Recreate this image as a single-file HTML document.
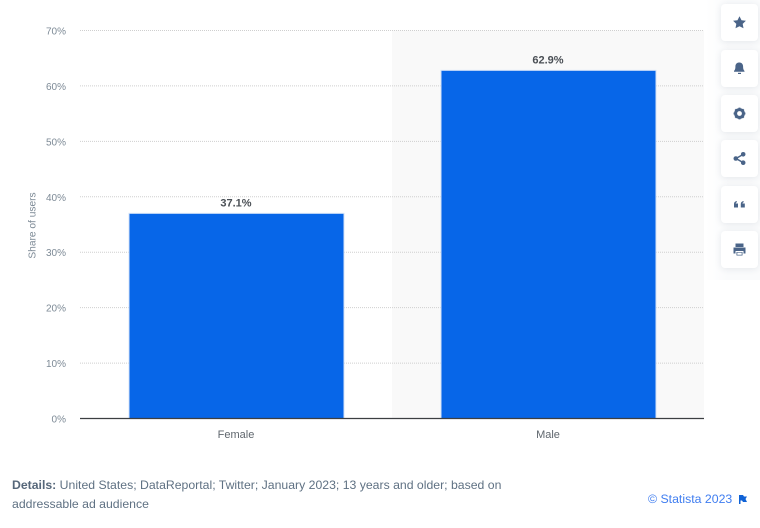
<!DOCTYPE html>
<html lang="en">
<head>
<meta charset="utf-8">
<title>Twitter users by gender</title>
<style>
html,body{margin:0;padding:0;background:#fff;width:760px;height:528px;overflow:hidden;font-family:"Liberation Sans",sans-serif}
#stage{position:relative;width:760px;height:528px}
svg{position:absolute;left:0;top:0}
.details{position:absolute;left:12px;top:476px;width:520px;font-size:12.25px;line-height:19px;color:#5f7183}
.details b{color:#56677a}
.credit{position:absolute;left:648px;top:491px;font-size:12.3px;line-height:16px;color:#3f7df0;white-space:nowrap}
.tool{position:absolute;left:721px;width:37px;height:37px;background:#fff;border-radius:4px;box-shadow:0 1px 7px rgba(40,60,90,.10);border:0;padding:0}
.tool svg{position:absolute;left:10px;top:10px}
.side{position:absolute;left:706px;top:0;width:54px;height:280px;background:linear-gradient(90deg,#fff,#fafbfc 40%,#fafbfc)}
</style>
</head>
<body>
<div id="stage">
  <div class="side"></div>
  <svg id="chart" width="760" height="528" viewBox="0 0 760 528"></svg>

  <div class="tool" style="top:4px">
    <svg width="17" height="17" viewBox="0 0 17 17"><path fill="#4a6488" d="M8.500 2.200l2 4 4.400.6-3.200 3.100.8 4.400-4-2.100-4 2.100.8-4.400-3.200-3.100 4.400-.6z"/></svg>
  </div>
  <div class="tool" style="top:50px">
    <svg width="17" height="17" viewBox="0 0 17 17"><path fill="#4a6488" d="M8.500 2.500c2.400 0 3.600 1.800 3.600 4.200 0 2.400.6 3.300 1.400 4.300v.8H3v-.8c.8-1 1.400-1.900 1.400-4.300 0-2.400 1.200-4.200 3.600-4.200z"/><rect x="7" y="12.800" width="3" height="1.200" fill="#4a6488"/></svg>
  </div>
  <div class="tool" style="top:95px">
    <svg width="17" height="17" viewBox="0 0 17 17"><circle cx="8.500" cy="8.500" r="3.900" fill="none" stroke="#4a6488" stroke-width="3"/><path stroke="#4a6488" stroke-width="2" d="M8.500 2.600v2M8.500 12.400v2M2.600 8.500h2M12.400 8.500h2M4.300 4.300l1.400 1.400M11.300 11.300l1.400 1.400M4.300 12.700l1.400-1.400M11.300 5.700l1.400-1.400"/></svg>
  </div>
  <div class="tool" style="top:140px">
    <svg width="17" height="17" viewBox="0 0 17 17"><path stroke="#4a6488" stroke-width="1.500" fill="none" d="M12 4.500L5 8.500l7 4"/><circle cx="12.200" cy="4.300" r="2.300" fill="#4a6488"/><circle cx="4.800" cy="8.500" r="2.300" fill="#4a6488"/><circle cx="12.200" cy="12.700" r="2.300" fill="#4a6488"/></svg>
  </div>
  <div class="tool" style="top:186px">
    <svg width="17" height="17" viewBox="0 0 17 17"><path fill="#4a6488" d="M3 8c0-1.700 1-2.700 2.800-3v1.300C5 6.500 4.700 7 4.700 7.500H7V11.500H3zM9.800 8c0-1.700 1-2.700 2.800-3v1.300c-.8.200-1.100.7-1.100 1.200h2.300V11.500h-4z"/></svg>
  </div>
  <div class="tool" style="top:231px">
    <svg width="17" height="17" viewBox="0 0 17 17"><path fill="#4a6488" d="M4.500 2.500h8v3.500h-8zM2.500 6.500h12v6h-2v-2.500h-8v2.500h-2z"/><path fill="#4a6488" d="M5.500 11h6v3.500h-6z"/><path fill="#fff" d="M6.300 11.600h4.400v2.200H6.300z"/></svg>
  </div>

  <div class="details"><b>Details:</b> United States; DataReportal; Twitter; January 2023; 13 years and older; based on<br>addressable ad audience</div>
  <div class="credit">© Statista 2023</div>
  <svg style="left:738px;top:494px" width="10" height="11" viewBox="0 0 10 11"><path fill="#0f62d6" d="M1 1h4l1 1.500h3L7.500 5 9 8H5L4 6.500H2.500V10H1z"/></svg>
</div>

<script>
const categories = ['Female', 'Male'];
const shareValues = [37.1, 62.9];
const valueLabels = ['37.1%', '62.9%'];
const tickValues = [0, 10, 20, 30, 40, 50, 60, 70];
const tickLabels = ['0%', '10%', '20%', '30%', '40%', '50%', '60%', '70%'];
const axisTitle = 'Share of users';

const NS = 'http://www.w3.org/2000/svg';
const svg = document.getElementById('chart');
const plot = { left: 80, right: 704, top: 30.5, bottom: 418.5 };
const domainMax = 70;
const bandWidth = (plot.right - plot.left) / categories.length;
const barWidth = 215;

function yScale(v) {
  return plot.bottom - (v / domainMax) * (plot.bottom - plot.top);
}
function xBand(i) {
  return plot.left + i * bandWidth;
}
function make(tag, attrs, text) {
  const el = document.createElementNS(NS, tag);
  for (const k in attrs) el.setAttribute(k, attrs[k]);
  if (text !== undefined) el.textContent = text;
  svg.appendChild(el);
  return el;
}
const FONT = '"Liberation Sans", sans-serif';

categories.forEach(function (c, i) {
  if (i % 2 === 1) {
    const band = make('rect', { x: xBand(i), y: plot.top, width: bandWidth, height: plot.bottom - plot.top, fill: '#f9f9f9' });
    
    
  }
});

tickValues.forEach(function (v, i) {
  const y = yScale(v);
  if (v !== 0) {
    const line = make('line', { x1: plot.left, x2: plot.right, y1: y, y2: y, stroke: '#cfcfcf', 'stroke-width': 1, 'stroke-dasharray': '1 1' });
    
    
  }
  const label = make('text', { x: 66, y: y + 4, 'text-anchor': 'end', 'font-family': FONT, 'font-size': 10, fill: '#7d8a96' }, tickLabels[i]);
  
  
});

categories.forEach(function (c, i) {
  const cx = xBand(i) + bandWidth / 2;
  const top = yScale(shareValues[i]);
  const bar = make('rect', { x: cx - barWidth / 2 + 0.5, y: top + 0.5, width: barWidth, height: plot.bottom - top - 0.5, fill: '#0766e8', stroke: '#d4e3f8', 'stroke-width': 1 });
  
  
  const val = make('text', { x: cx, y: top - 6.5, 'text-anchor': 'middle', 'font-family': FONT, 'font-size': 11, 'font-weight': 700, fill: '#4a4f55' }, valueLabels[i]);
  
  
  const cat = make('text', { x: cx, y: 438, 'text-anchor': 'middle', 'font-family': FONT, 'font-size': 11, fill: '#5f666d' }, c);
  
  
});

const axis = make('line', { x1: plot.left, x2: plot.right, y1: plot.bottom, y2: plot.bottom, stroke: '#3c3f42', 'stroke-width': 1.2 });



const title = make('text', { x: 0, y: 0, transform: 'translate(35.5 225.5) rotate(-90)', 'text-anchor': 'middle', 'font-family': FONT, 'font-size': 10.2, fill: '#7d8a96' }, axisTitle);


</script>
</body>
</html>
